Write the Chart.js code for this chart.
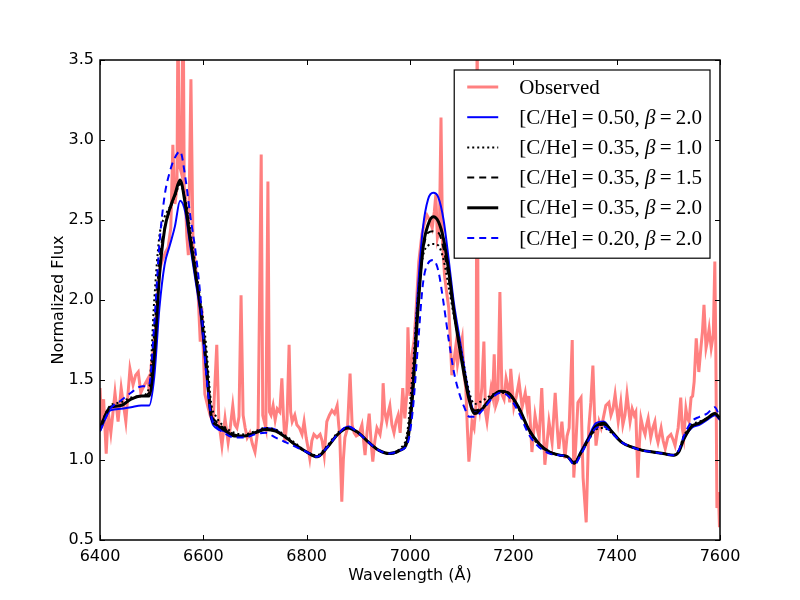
<!DOCTYPE html>
<html>
<head>
<meta charset="utf-8">
<title>Spectrum fit</title>
<script src="https://cdn.jsdelivr.net/npm/chart.js@4.4.1/dist/chart.umd.min.js"></script>
<style>
  body { margin: 0; background: #fff; }
  canvas { display: block; }
</style>
</head>
<body>
<canvas id="spectrumChart" width="800" height="600"></canvas>
<script>
// Observed spectrum (wavelength in Å, normalized flux)
const obsWave = [6400, 6403, 6407, 6412, 6416, 6421, 6429, 6435, 6441, 6450, 6458, 6464, 6469, 6474, 6479, 6483, 6488, 6493, 6496, 6499,
  6504, 6508, 6512, 6516, 6522, 6527, 6532, 6537, 6541, 6545, 6549, 6551, 6553, 6557, 6561, 6563, 6565, 6568, 6571, 6576,
  6580, 6584, 6588, 6590, 6594, 6597, 6603, 6609, 6614, 6619, 6626, 6630, 6636, 6642, 6648, 6652, 6657, 6661, 6665, 6669,
  6673, 6677, 6681, 6685, 6690, 6695, 6700, 6706, 6712, 6715, 6721, 6725, 6728, 6731, 6735, 6739, 6743, 6748, 6752, 6755,
  6758, 6762, 6766, 6769, 6772, 6777, 6781, 6786, 6791, 6795, 6799, 6803, 6806, 6810, 6814, 6820, 6826, 6830, 6834, 6839,
  6844, 6849, 6854, 6859, 6862, 6864, 6868, 6871, 6874, 6879, 6884, 6888, 6892, 6896, 6901, 6907, 6913, 6917, 6921, 6925,
  6928, 6932, 6936, 6942, 6946, 6948, 6951, 6955, 6958, 6961, 6965, 6969, 6973, 6977, 6981, 6986, 6990, 6994, 6996, 7000,
  7004, 7008, 7012, 7017, 7023, 7028, 7033, 7038, 7043, 7047, 7050, 7053, 7057, 7060, 7063, 7067, 7070, 7075, 7078, 7081,
  7085, 7089, 7092, 7095, 7101, 7104, 7108, 7111, 7114, 7117, 7120, 7124, 7128, 7130, 7132, 7135, 7139, 7143, 7146, 7149,
  7153, 7157, 7160, 7163, 7166, 7170, 7174, 7178, 7182, 7186, 7190, 7193, 7195, 7201, 7206, 7211, 7217, 7223, 7227, 7230,
  7236, 7242, 7246, 7250, 7255, 7261, 7265, 7269, 7275, 7281, 7285, 7288, 7294, 7300, 7304, 7308, 7314, 7317, 7321, 7325,
  7331, 7335, 7341, 7346, 7350, 7354, 7357, 7360, 7366, 7370, 7374, 7379, 7385, 7389, 7393, 7397, 7403, 7408, 7412, 7416,
  7420, 7426, 7430, 7434, 7437, 7441, 7444, 7447, 7451, 7455, 7458, 7461, 7466, 7470, 7474, 7477, 7480, 7486, 7490, 7494,
  7499, 7505, 7510, 7513, 7516, 7519, 7524, 7527, 7530, 7534, 7537, 7540, 7544, 7547, 7550, 7554, 7559, 7563, 7566, 7569,
  7573, 7576, 7579, 7583, 7587, 7590, 7592, 7594, 7597, 7599, 7600];
const obsFlux = [1.45, 1.22, 1.38, 1.04, 1.30, 1.17, 1.42, 1.24, 1.45, 1.24, 1.57, 1.47, 1.53, 1.55, 1.42, 1.45, 1.48, 1.51, 1.40, 1.59,
  1.70, 1.84, 2.05, 2.20, 2.26, 2.30, 2.33, 2.45, 2.97, 2.60, 2.70, 3.90, 2.85, 2.80, 3.90, 2.70, 2.66, 2.40, 2.28, 3.38,
  2.35, 2.24, 2.10, 2.03, 1.74, 1.95, 1.41, 1.33, 1.27, 1.24, 1.72, 1.24, 1.09, 1.26, 1.11, 1.20, 1.34, 1.22, 1.20, 1.27,
  2.03, 1.28, 1.20, 1.14, 1.17, 1.10, 1.05, 1.20, 2.91, 1.28, 1.20, 2.74, 1.30, 1.28, 1.34, 1.25, 1.32, 1.30, 1.51, 1.28,
  1.11, 1.25, 1.72, 1.30, 1.24, 1.28, 1.22, 1.20, 1.16, 1.24, 1.14, 1.07, 1.01, 1.12, 1.16, 1.14, 1.16, 1.12, 1.03, 1.24,
  1.28, 1.31, 1.29, 1.34, 1.22, 1.16, 0.74, 1.00, 1.14, 1.20, 1.54, 1.22, 1.17, 1.15, 1.16, 1.22, 1.03, 1.18, 1.29, 1.10,
  0.99, 1.12, 1.20, 1.16, 1.25, 1.48, 1.30, 1.24, 1.30, 1.34, 1.22, 1.17, 1.24, 1.28, 1.17, 1.45, 1.26, 1.42, 1.83, 1.40,
  1.66, 1.75, 1.95, 2.24, 2.41, 2.48, 2.53, 2.50, 2.45, 2.55, 2.66, 2.39, 2.45, 3.14, 2.36, 2.15, 2.07, 1.95, 1.75, 1.53,
  1.62, 1.72, 1.60, 1.66, 1.76, 1.55, 1.45, 1.20, 0.99, 1.10, 1.24, 1.20, 1.35, 3.90, 1.40, 1.32, 1.45, 1.74, 1.30, 1.24,
  1.35, 1.45, 1.40, 1.66, 1.34, 1.38, 2.05, 1.41, 1.38, 1.51, 1.45, 1.36, 1.57, 1.33, 1.40, 1.49, 1.33, 1.42, 1.32, 1.40,
  1.05, 1.28, 1.20, 1.14, 1.45, 0.97, 1.10, 1.24, 1.11, 1.42, 1.20, 1.07, 1.24, 1.01, 1.15, 1.20, 1.75, 0.89, 1.10, 1.36,
  1.39, 0.89, 0.61, 1.20, 1.36, 1.59, 1.30, 1.09, 1.24, 1.20, 1.26, 1.34, 1.36, 1.28, 1.32, 1.41, 1.24, 1.36, 1.22, 1.28,
  1.41, 1.24, 1.32, 1.28, 1.30, 0.89, 1.10, 1.26, 1.20, 1.16, 1.22, 1.26, 1.14, 1.20, 1.24, 1.15, 1.11, 1.20, 1.12, 1.07,
  1.14, 1.16, 1.12, 1.09, 1.15, 1.20, 1.39, 1.20, 1.14, 1.32, 1.26, 1.24, 1.39, 1.40, 1.49, 1.76, 1.55, 1.70, 1.80, 1.97,
  1.70, 1.75, 1.82, 1.70, 1.78, 2.24, 1.66, 0.70, 0.80, 0.58, 0.65];

// Model spectra, all sampled on the same wavelength grid
const modelWave = [6400, 6420, 6440, 6460, 6480, 6495, 6505, 6515, 6525, 6535,
  6545, 6555, 6565, 6575, 6585, 6595, 6605, 6615, 6625, 6640,
  6660, 6680, 6700, 6720, 6740, 6760, 6780, 6800, 6820, 6840,
  6860, 6880, 6900, 6920, 6940, 6960, 6980, 6995, 7005, 7015,
  7025, 7035, 7045, 7055, 7065, 7075, 7085, 7095, 7105, 7115,
  7125, 7140, 7160, 7175, 7190, 7210, 7230, 7250, 7270, 7290,
  7305, 7318, 7330, 7345, 7360, 7375, 7390, 7410, 7430, 7450,
  7470, 7490, 7510, 7520, 7530, 7545, 7560, 7575, 7590, 7600];

const fluxC50B20 = [1.18, 1.31, 1.32, 1.33, 1.34, 1.34, 1.52, 1.95, 2.22, 2.34,
  2.46, 2.62, 2.55, 2.33, 2.12, 1.90, 1.56, 1.26, 1.20, 1.18,
  1.15, 1.15, 1.17, 1.20, 1.19, 1.14, 1.09, 1.05, 1.02, 1.08,
  1.16, 1.21, 1.17, 1.11, 1.06, 1.04, 1.06, 1.13, 1.45, 2.05,
  2.45, 2.63, 2.67, 2.64, 2.50, 2.25, 1.98, 1.78, 1.58, 1.40,
  1.30, 1.32, 1.40, 1.43, 1.42, 1.33, 1.19, 1.10, 1.05, 1.03,
  1.02, 0.98, 1.05, 1.14, 1.23, 1.24, 1.18, 1.11, 1.08, 1.06,
  1.05, 1.04, 1.03, 1.05, 1.13, 1.20, 1.22, 1.25, 1.28, 1.25];

const fluxC35B10 = [1.21, 1.34, 1.36, 1.39, 1.40, 1.45, 2.00, 2.40, 2.52, 2.58,
  2.65, 2.72, 2.63, 2.43, 2.21, 1.99, 1.73, 1.36, 1.27, 1.21,
  1.17, 1.16, 1.18, 1.20, 1.19, 1.15, 1.10, 1.05, 1.03, 1.09,
  1.17, 1.20, 1.17, 1.11, 1.06, 1.04, 1.07, 1.18, 1.55, 2.00,
  2.27, 2.34, 2.35, 2.34, 2.25, 2.08, 1.90, 1.75, 1.58, 1.42,
  1.35, 1.37, 1.41, 1.42, 1.41, 1.32, 1.18, 1.09, 1.05, 1.03,
  1.02, 0.99, 1.04, 1.12, 1.19, 1.20, 1.17, 1.11, 1.08, 1.06,
  1.05, 1.04, 1.03, 1.06, 1.15, 1.22, 1.24, 1.26, 1.29, 1.26];

const fluxC35B15 = [1.20, 1.33, 1.34, 1.38, 1.40, 1.42, 1.80, 2.25, 2.45, 2.56,
  2.65, 2.73, 2.62, 2.40, 2.18, 1.95, 1.66, 1.31, 1.24, 1.20,
  1.16, 1.15, 1.17, 1.19, 1.18, 1.14, 1.09, 1.05, 1.02, 1.08,
  1.16, 1.20, 1.17, 1.11, 1.06, 1.04, 1.06, 1.15, 1.47, 1.95,
  2.30, 2.42, 2.43, 2.42, 2.32, 2.13, 1.92, 1.73, 1.55, 1.39,
  1.31, 1.33, 1.40, 1.43, 1.42, 1.33, 1.19, 1.10, 1.05, 1.03,
  1.02, 0.98, 1.04, 1.13, 1.21, 1.22, 1.18, 1.11, 1.08, 1.06,
  1.05, 1.04, 1.03, 1.05, 1.14, 1.21, 1.23, 1.26, 1.29, 1.26];

const fluxC35B20 = [1.20, 1.33, 1.34, 1.38, 1.40, 1.40, 1.65, 2.15, 2.44, 2.57,
  2.66, 2.75, 2.60, 2.37, 2.16, 1.94, 1.62, 1.28, 1.22, 1.19,
  1.15, 1.15, 1.17, 1.19, 1.18, 1.14, 1.09, 1.05, 1.02, 1.08,
  1.16, 1.20, 1.17, 1.11, 1.06, 1.04, 1.06, 1.12, 1.40, 1.92,
  2.32, 2.47, 2.52, 2.49, 2.38, 2.18, 1.93, 1.72, 1.53, 1.37,
  1.29, 1.32, 1.40, 1.43, 1.42, 1.33, 1.19, 1.10, 1.05, 1.03,
  1.02, 0.98, 1.04, 1.13, 1.21, 1.23, 1.18, 1.11, 1.08, 1.06,
  1.05, 1.04, 1.03, 1.05, 1.13, 1.21, 1.23, 1.26, 1.29, 1.26];

const fluxC20B20 = [1.18, 1.32, 1.37, 1.42, 1.46, 1.47, 1.85, 2.35, 2.65, 2.80,
  2.89, 2.93, 2.77, 2.52, 2.30, 2.00, 1.56, 1.28, 1.21, 1.17,
  1.14, 1.14, 1.16, 1.17, 1.14, 1.11, 1.08, 1.05, 1.02, 1.08,
  1.16, 1.21, 1.17, 1.11, 1.06, 1.04, 1.06, 1.10, 1.30, 1.70,
  2.10, 2.23, 2.25, 2.18, 1.98, 1.75, 1.55, 1.42, 1.33, 1.27,
  1.27, 1.31, 1.39, 1.42, 1.40, 1.30, 1.16, 1.08, 1.04, 1.03,
  1.02, 0.97, 1.03, 1.12, 1.20, 1.21, 1.17, 1.11, 1.08, 1.06,
  1.05, 1.04, 1.03, 1.06, 1.15, 1.24, 1.27, 1.29, 1.33, 1.26];

const xTicks = [6400, 6600, 6800, 7000, 7200, 7400, 7600];
const yTicks = [0.5, 1.0, 1.5, 2.0, 2.5, 3.0, 3.5];

function toPoints(xs, ys) {
  return xs.map(function (x, i) { return {x: x, y: ys[i]}; });
}

function modelSet(label, flux, color, width, dash, order) {
  return {
    label: label,
    data: toPoints(modelWave, flux),
    borderColor: color,
    borderWidth: width,
    borderDash: dash,
    pointRadius: 0,
    cubicInterpolationMode: 'monotone',
    order: order
  };
}

// frame + inward ticks on all four sides, like the original axes
const axesFrame = {
  id: 'axesFrame',
  afterDatasetsDraw(chart) {
    const {ctx, chartArea: a, scales} = chart;
    ctx.save();
    ctx.strokeStyle = '#000';
    ctx.lineWidth = 1;
    ctx.beginPath();
    xTicks.forEach(function (v) {
      const px = Math.round(scales.x.getPixelForValue(v)) + 0.5;
      ctx.moveTo(px, a.bottom); ctx.lineTo(px, a.bottom - 5);
      ctx.moveTo(px, a.top); ctx.lineTo(px, a.top + 5);
    });
    yTicks.forEach(function (v) {
      const py = Math.round(scales.y.getPixelForValue(v)) + 0.5;
      ctx.moveTo(a.left, py); ctx.lineTo(a.left + 5, py);
      ctx.moveTo(a.right, py); ctx.lineTo(a.right - 5, py);
    });
    ctx.stroke();
    ctx.lineWidth = 1.5;
    ctx.strokeRect(a.left, a.top, a.right - a.left, a.bottom - a.top);
    ctx.restore();
  }
};

// legend drawn inside the plot, upper right
const insideLegend = {
  id: 'insideLegend',
  afterDraw(chart) {
    const {ctx, chartArea: a} = chart;
    const sets = chart.data.datasets;
    const font = '21px "Liberation Serif", "DejaVu Serif", serif';
    const italic = 'italic ' + font;
    ctx.save();
    ctx.textBaseline = 'middle';

    function pieces(label) {
      const parts = label.split('β');
      if (parts.length < 2) return [[label, font]];
      return [[parts[0], font], ['β', italic], [parts[1], font]];
    }
    function textWidth(label) {
      let w = 0;
      pieces(label).forEach(function (p) { ctx.font = p[1]; w += ctx.measureText(p[0]).width; });
      return w;
    }

    let maxW = 0;
    sets.forEach(function (s) { maxW = Math.max(maxW, textWidth(s.label)); });
    const rowH = 30.2;
    const boxW = 13 + 31 + 21 + maxW + 8;
    const boxH = rowH * sets.length + 7;
    const left = a.right - 10 - boxW;
    const top = a.top + 10;

    ctx.fillStyle = '#fff';
    ctx.fillRect(left, top, boxW, boxH);
    ctx.strokeStyle = '#000';
    ctx.lineWidth = 1.2;
    ctx.strokeRect(left, top, boxW, boxH);

    sets.forEach(function (s, i) {
      const y = top + 17 + i * rowH;
      ctx.beginPath();
      ctx.setLineDash(s.borderDash || []);
      ctx.strokeStyle = s.borderColor;
      ctx.lineWidth = s.borderWidth;
      ctx.moveTo(left + 13, y);
      ctx.lineTo(left + 44, y);
      ctx.stroke();
      ctx.setLineDash([]);
      let x = left + 65;
      ctx.fillStyle = '#000';
      pieces(s.label).forEach(function (p) {
        ctx.font = p[1];
        ctx.fillText(p[0], x, y + 1);
        x += ctx.measureText(p[0]).width;
      });
    });
    ctx.restore();
  }
};

const tickFont = {family: '"DejaVu Sans", sans-serif', size: 16};
const eq = '\u2009=\u2009';

new Chart(document.getElementById('spectrumChart'), {
  type: 'line',
  data: {
    datasets: [
      {
        label: 'Observed',
        data: toPoints(obsWave, obsFlux),
        borderColor: '#ff8080',
        borderWidth: 3,
        pointRadius: 0,
        tension: 0,
        order: 6
      },
      modelSet('[C/He]' + eq + '0.50, β' + eq + '2.0', fluxC50B20, '#0000ff', 2, [], 5),
      modelSet('[C/He]' + eq + '0.35, β' + eq + '1.0', fluxC35B10, '#000000', 2, [2, 3], 4),
      modelSet('[C/He]' + eq + '0.35, β' + eq + '1.5', fluxC35B15, '#000000', 2, [7, 5], 3),
      modelSet('[C/He]' + eq + '0.35, β' + eq + '2.0', fluxC35B20, '#000000', 3, [], 2),
      modelSet('[C/He]' + eq + '0.20, β' + eq + '2.0', fluxC20B20, '#0000ff', 2, [7, 5], 1)
    ]
  },
  options: {
    responsive: false,
    animation: false,
    devicePixelRatio: 1,
    layout: {padding: {top: 60, right: 80, left: 0, bottom: 0}},
    plugins: {
      legend: {display: false},
      tooltip: {enabled: false}
    },
    scales: {
      x: {
        type: 'linear',
        min: 6400,
        max: 7600,
        afterBuildTicks: function (s) { s.ticks = xTicks.map(function (v) { return {value: v}; }); },
        afterFit: function (s) { s.height = 60; },
        grid: {display: false, drawTicks: false},
        border: {display: false},
        ticks: {color: '#000', font: tickFont, padding: 7, maxRotation: 0, callback: function (v) { return String(v); }},
        title: {display: true, text: 'Wavelength (Å)', color: '#000', font: tickFont, padding: {top: 0, bottom: 15}}
      },
      y: {
        type: 'linear',
        min: 0.5,
        max: 3.5,
        afterBuildTicks: function (s) { s.ticks = yTicks.map(function (v) { return {value: v}; }); },
        afterFit: function (s) { s.width = 100; },
        grid: {display: false, drawTicks: false},
        border: {display: false},
        ticks: {color: '#000', font: tickFont, padding: 6, callback: function (v) { return v.toFixed(1); }},
        title: {display: true, text: 'Normalized Flux', color: '#000', font: tickFont, padding: {top: 49, bottom: 0}}
      }
    }
  },
  plugins: [axesFrame, insideLegend]
});
</script>
</body>
</html>
